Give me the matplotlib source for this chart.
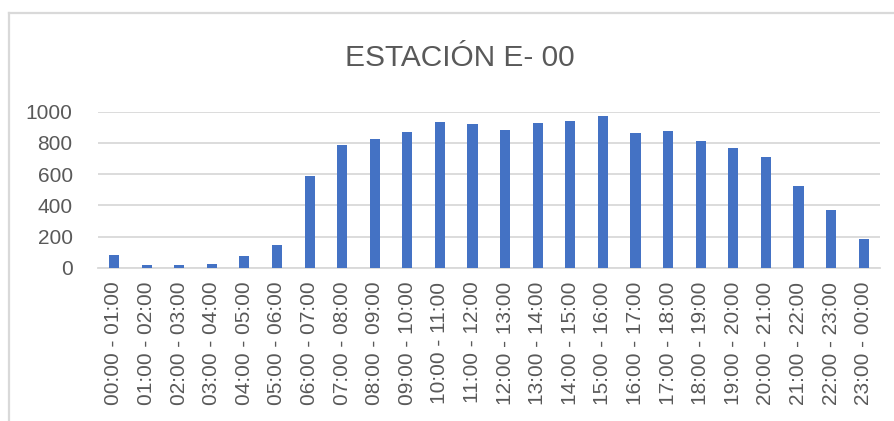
import numpy as np
import matplotlib.pyplot as plt
from matplotlib.lines import Line2D

# hourly counts
hours = [
    "00:00 - 01:00", "01:00 - 02:00", "02:00 - 03:00", "03:00 - 04:00",
    "04:00 - 05:00", "05:00 - 06:00", "06:00 - 07:00", "07:00 - 08:00",
    "08:00 - 09:00", "09:00 - 10:00", "10:00 - 11:00", "11:00 - 12:00",
    "12:00 - 13:00", "13:00 - 14:00", "14:00 - 15:00", "15:00 - 16:00",
    "16:00 - 17:00", "17:00 - 18:00", "18:00 - 19:00", "19:00 - 20:00",
    "20:00 - 21:00", "21:00 - 22:00", "22:00 - 23:00", "23:00 - 00:00",
]
counts = [
    81, 19, 19, 23, 73, 147, 585, 786, 823, 868, 934, 919,
    885, 925, 938, 972, 861, 876, 814, 765, 712, 524, 372, 182,
]
y_ticks = [0, 200, 400, 600, 800, 1000]
title = "ESTACIÓN E- 00"

bar_color = "#4472C4"
grid_color = "#D9D9D9"
text_color = "#595959"

plt.rcParams["font.family"] = ["Liberation Sans", "DejaVu Sans"]

W, H = 895, 421
fig = plt.figure(figsize=(W / 100, H / 100), dpi=100)
fig.patch.set_facecolor("white")

# chart area border (only top and left visible in the crop)
fig.add_artist(Line2D([9 / W, 9 / W], [0, 1 - 13 / H],
                      color=grid_color, lw=1.6, transform=fig.transFigure))
fig.add_artist(Line2D([9 / W, 1], [1 - 13 / H, 1 - 13 / H],
                      color=grid_color, lw=1.6, transform=fig.transFigure))

left, right = 97.7 / W, 880 / W
bottom, top = 1 - 267.7 / H, 1 - 111.7 / H
ax = fig.add_axes([left, bottom, right - left, top - bottom])

x = np.arange(len(hours))
ax.bar(x, counts, width=0.31, color=bar_color, zorder=3)

ax.set_xlim(-0.5, len(hours) - 0.5)
ax.set_ylim(0, 1000)
ax.set_yticks(y_ticks)
ax.set_xticks(x)
ax.set_xticklabels(hours, rotation=90)

ax.yaxis.grid(True, color=grid_color, lw=1.3, zorder=0)
ax.set_axisbelow(True)

for side in ["top", "right", "left"]:
    ax.spines[side].set_visible(False)
ax.spines["bottom"].set_color(grid_color)
ax.spines["bottom"].set_linewidth(1.3)

ax.tick_params(axis="both", length=0, labelsize=15, colors=text_color)
ax.tick_params(axis="x", pad=10)
ax.tick_params(axis="y", pad=18)

fig.text(460 / W, 1 - 58 / H, title, ha="center", va="center",
         fontsize=21.5, color=text_color)

fig.savefig("out.png", dpi=100)
